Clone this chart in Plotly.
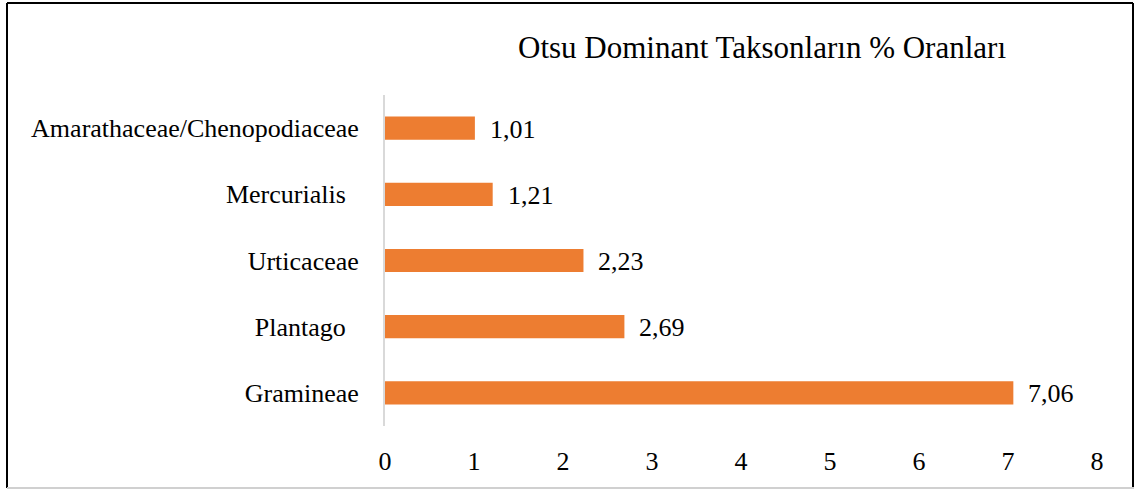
import plotly.graph_objects as go

categories = ["Gramineae", "Plantago\u00a0\u00a0", "Urticaceae", "Mercurialis\u00a0\u00a0", "Amarathaceae/Chenopodiaceae"]
values = [7.06, 2.69, 2.23, 1.21, 1.01]
x_ticks = [0, 1, 2, 3, 4, 5, 6, 7, 8]
title = "Otsu Dominant Taksonların % Oranları"

FONT = "Liberation Serif, Times New Roman, serif"
W, H = 1136, 492
L, R, T, B = 385, 39, 95, 66
pw, ph = W - L - R, H - T - B

fig = go.Figure()
fig.add_trace(go.Bar(
    x=values, y=categories, orientation="h",
    marker=dict(color="#ED7D31", line=dict(width=0)),
    width=0.35, hoverinfo="x+y",
))

for v, c in zip(values, categories):
    fig.add_annotation(x=v, y=c, xref="x", yref="y", text=f"{v:.2f}".replace(".", ","),
                       showarrow=False, xanchor="left", xshift=13, yshift=-1,
                       font=dict(family=FONT, size=26, color="#000"))

def px2x(p):
    return (p - L) / pw

def py2y(p):
    return (H - B - p) / ph

# outer frame: black left/top/right, light grey bottom
xl, xr, yt, yb = px2x(7), px2x(1133), py2y(3), py2y(488)
for (a, b, c, d) in [(xl, yb, xl, yt), (xl, yt, xr, yt), (xr, yt, xr, yb)]:
    fig.add_shape(type="line", xref="paper", yref="paper", x0=a, y0=b, x1=c, y1=d,
                  line=dict(color="#000", width=2))
fig.add_shape(type="line", xref="paper", yref="paper",
              x0=xl, x1=px2x(1134), y0=yb, y1=yb,
              line=dict(color="#d0d0d0", width=2))

fig.update_layout(
    width=W, height=H,
    margin=dict(l=L, r=R, t=T, b=B, pad=0),
    paper_bgcolor="white", plot_bgcolor="white",
    separators=",.",
    showlegend=False,
    font=dict(family=FONT, size=26, color="#000"),
    title=dict(text=title, x=px2x(762), xref="paper", xanchor="center",
               y=1 - 47 / H, yanchor="middle", yref="container",
               font=dict(family=FONT, size=31, color="#000")),
    xaxis=dict(range=[0, 8], tickvals=x_ticks, showgrid=False, zeroline=False,
               showline=False, ticks="", ticklabelstandoff=17,
               tickfont=dict(family=FONT, size=26, color="#000")),
    yaxis=dict(showgrid=False, zeroline=False, showline=True, linecolor="#d9d9d9",
               linewidth=2, ticks="", ticklabelstandoff=19,
               tickfont=dict(family=FONT, size=26, color="#000")),
)

fig.write_html("out.html", config={"displayModeBar": False},
               post_script="document.body.style.margin='0';")
